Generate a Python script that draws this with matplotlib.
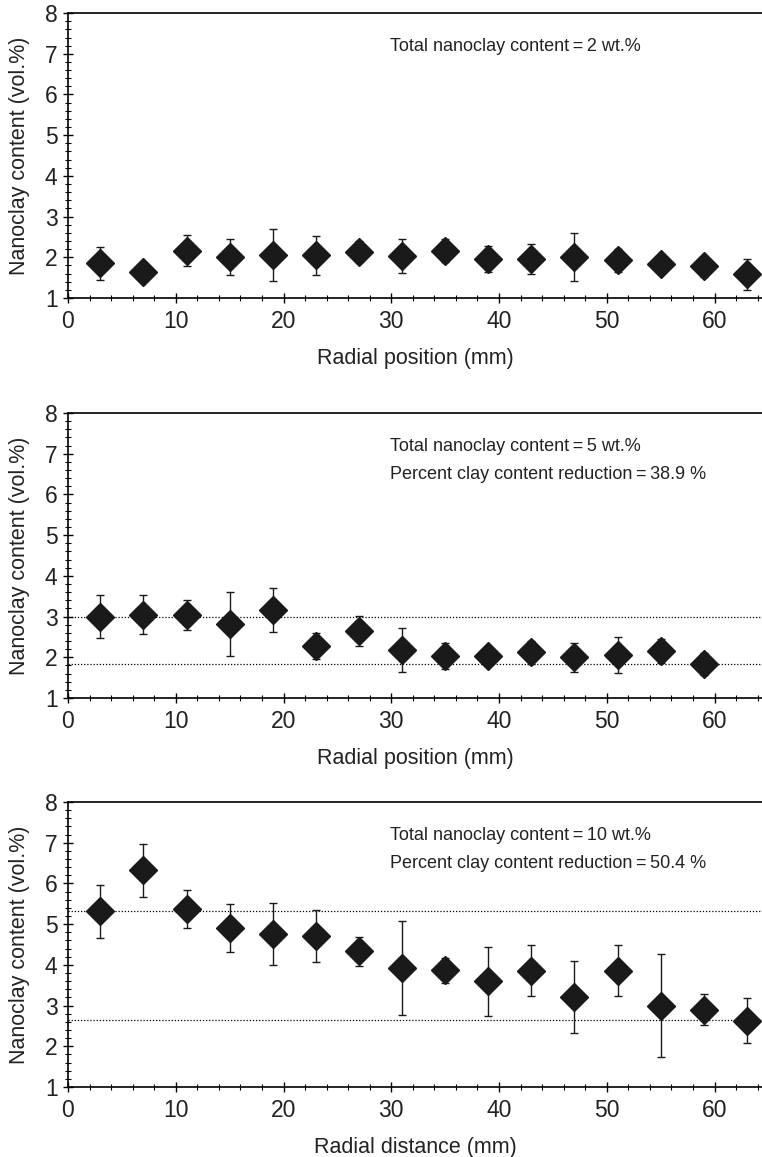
import numpy as np
import matplotlib
matplotlib.use("Agg")
import matplotlib.pyplot as plt
from matplotlib.ticker import MultipleLocator

plt.rcParams['font.family'] = ['Liberation Sans', 'DejaVu Sans']

# positions radiales (mm)
radial = [3, 7, 11, 15, 19, 23, 27, 31, 35, 39, 43, 47, 51, 55, 59, 63]

# 2 wt.%
clay_2 = [1.85, 1.64, 2.16, 2.01, 2.05, 2.05, 2.14, 2.03, 2.16, 1.96, 1.96, 2.01, 1.93, 1.83, 1.78, 1.58]
err_2 = [0.41, 0.245, 0.38, 0.45, 0.635, 0.485, 0.255, 0.415, 0.285, 0.32, 0.365, 0.585, 0.28, 0.10, 0.265, 0.38]

# 5 wt.%
radial_5 = radial[:-1]
clay_5 = [3.00, 3.05, 3.05, 2.82, 3.16, 2.28, 2.65, 2.18, 2.04, 2.04, 2.12, 2.00, 2.06, 2.15, 1.84]
err_5 = [0.53, 0.47, 0.37, 0.78, 0.54, 0.31, 0.36, 0.55, 0.32, 0.12, 0.28, 0.36, 0.44, 0.29, 0.27]
lines_5 = [3.0, 1.83]

# 10 wt.%
clay_10 = [5.32, 6.32, 5.37, 4.91, 4.76, 4.71, 4.33, 3.92, 3.87, 3.60, 3.86, 3.21, 3.86, 3.00, 2.90, 2.63]
err_10 = [0.65, 0.66, 0.47, 0.59, 0.77, 0.64, 0.36, 1.15, 0.31, 0.85, 0.63, 0.88, 0.62, 1.26, 0.38, 0.55]
lines_10 = [5.32, 2.64]

eq = "\u2009=\u2009"
panels = [
    (radial, clay_2, err_2, [], ["Total nanoclay content" + eq + "2 wt.%"], "Radial position (mm)"),
    (radial_5, clay_5, err_5, lines_5,
     ["Total nanoclay content" + eq + "5 wt.%", "Percent clay content reduction" + eq + "38.9 %"],
     "Radial position (mm)"),
    (radial, clay_10, err_10, lines_10,
     ["Total nanoclay content" + eq + "10 wt.%", "Percent clay content reduction" + eq + "50.4 %"],
     "Radial distance (mm)"),
]

fig = plt.figure(figsize=(7.62, 11.57), dpi=100)

# positions des axes (fraction de la figure)
bottoms = [0.7424, 0.3967, 0.0605]
left, width, height = 0.0892, 0.9108, 0.2463

for (xs, ys, errs, hlines, texts, xlabel), b in zip(panels, bottoms):
    ax = fig.add_axes([left, b, width, height])

    for h in hlines:
        ax.axhline(h, color="black", linestyle=(0, (1, 1.5)), linewidth=0.9)

    ax.errorbar(xs, ys, yerr=errs, fmt="D", color="#1a1a1a", markersize=14,
                ecolor="#1a1a1a", elinewidth=1.0, capsize=3, capthick=1.0)

    ax.set_xlim(0, 64.4)
    ax.set_ylim(1, 8)
    ax.xaxis.set_major_locator(MultipleLocator(10))
    ax.xaxis.set_minor_locator(MultipleLocator(2))
    ax.yaxis.set_major_locator(MultipleLocator(1))
    ax.yaxis.set_minor_locator(MultipleLocator(0.2))
    ax.tick_params(which="major", direction="inout", length=7, width=1.0, labelsize=16.5,
                   labelcolor="#222222")
    ax.tick_params(which="minor", direction="inout", length=4, width=0.8)
    ax.tick_params(axis="x", which="major", pad=5)
    ax.tick_params(axis="y", which="major", pad=4)

    ax.spines["right"].set_visible(False)
    for s in ["left", "bottom", "top"]:
        ax.spines[s].set_linewidth(1.2)

    ax.set_ylabel("Nanoclay content (vol.%)", fontsize=15.5, labelpad=11, color="#222222")
    ax.set_xlabel(xlabel, fontsize=15.5, labelpad=11, color="#222222")

    for i, t in enumerate(texts):
        ax.text(29.9, 7.17 - i * 0.68, t, fontsize=13, va="center", ha="left", color="#222222")

fig.savefig("out.png", dpi=100)
